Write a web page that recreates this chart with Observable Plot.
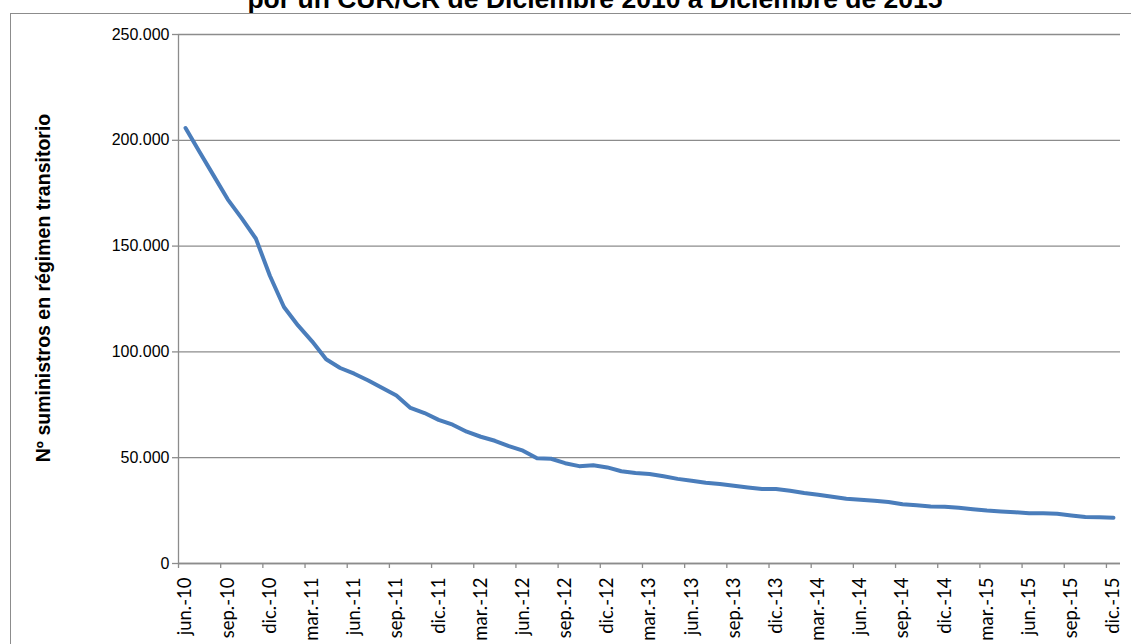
<!DOCTYPE html>
<html><head><meta charset="utf-8">
<script src="https://cdn.jsdelivr.net/npm/d3@7"></script>
<script src="https://cdn.jsdelivr.net/npm/@observablehq/plot@0.6"></script>
<style>
body{margin:0;background:#fff;}
#wrap{position:relative;width:1131px;height:644px;overflow:hidden;background:#fff;}
#title{position:absolute;left:595px;top:-14px;transform:translateX(-50%);white-space:nowrap;font:bold 26.5px "Liberation Sans",Arial,sans-serif;line-height:26.5px;color:#000;z-index:3;}
#frame{position:absolute;left:10px;top:13px;width:1200px;height:700px;border-left:1px solid #8c8c8c;border-top:1px solid #8c8c8c;z-index:2;}
#ytitle{position:absolute;left:43px;top:288px;transform:translate(-50%,-50%) rotate(-90deg);white-space:nowrap;font:bold 19.5px "Liberation Sans",Arial,sans-serif;color:#000;z-index:3;}
#chart{position:absolute;left:0;top:0;z-index:1;}
</style>
</head><body>
<div id="wrap">
  <div id="title">por un CUR/CR de Diciembre 2010 a Diciembre de 2015</div>
  <div id="frame"></div>
  <div id="ytitle">Nº suministros en régimen transitorio</div>
  <div id="chart"></div>
</div>
<script>
const months = [
 "jun.-10","jul.-10","ago.-10","sep.-10","oct.-10","nov.-10","dic.-10",
 "ene.-11","feb.-11","mar.-11","abr.-11","may.-11","jun.-11","jul.-11","ago.-11","sep.-11","oct.-11","nov.-11","dic.-11",
 "ene.-12","feb.-12","mar.-12","abr.-12","may.-12","jun.-12","jul.-12","ago.-12","sep.-12","oct.-12","nov.-12","dic.-12",
 "ene.-13","feb.-13","mar.-13","abr.-13","may.-13","jun.-13","jul.-13","ago.-13","sep.-13","oct.-13","nov.-13","dic.-13",
 "ene.-14","feb.-14","mar.-14","abr.-14","may.-14","jun.-14","jul.-14","ago.-14","sep.-14","oct.-14","nov.-14","dic.-14",
 "ene.-15","feb.-15","mar.-15","abr.-15","may.-15","jun.-15","jul.-15","ago.-15","sep.-15","oct.-15","nov.-15","dic.-15"
];
const suministros = [
 205800,194500,183300,172100,163100,153600,136000,
 121200,112500,105000,96500,92400,89700,86500,82900,79400,73500,71100,67900,
 65600,62300,59900,58000,55500,53300,49700,49500,47400,46000,46400,45400,
 43600,42800,42300,41200,40000,39100,38200,37600,36700,35900,35200,35200,
 34400,33300,32500,31500,30600,30100,29700,29100,28000,27500,26900,26800,
 26300,25600,25000,24600,24200,23700,23700,23500,22700,22000,21800,21600
];
const yTicks = [0, 50000, 100000, 150000, 200000, 250000];

const data = suministros.map((v, i) => ({i, v, mes: months[i]}));
const labelIdx = d3.range(0, months.length, 3);
const boundaryTicks = labelIdx.map(i => i - 0.5);
const fmt = d3.formatLocale({decimal: ",", thousands: ".", grouping: [3], currency: ["", "€"]}).format(",");
const grey = "#8c8c8c";

const chart = Plot.plot({
  width: 1131, height: 644,
  marginLeft: 178, marginRight: 11, marginTop: 34, marginBottom: 81,
  style: {background: "transparent", color: "#000", fontFamily: "'Liberation Sans', Arial, sans-serif"},
  x: {type: "linear", domain: [-0.5, months.length - 0.5], label: null},
  y: {domain: [0, 250000], label: null},
  marks: [
    Plot.gridY(yTicks, {stroke: grey, strokeOpacity: 1, strokeWidth: 1.3}),
    Plot.ruleX([-0.5], {stroke: grey, strokeWidth: 1.3}),
    Plot.ruleY([0], {stroke: grey, strokeWidth: 1.3}),
    Plot.axisY(yTicks, {tickSize: 6, tickPadding: 3, tickFormat: fmt, fontSize: 16, stroke: grey, strokeWidth: 1.3, label: null}),
    Plot.axisX(boundaryTicks, {tickSize: 5, tickFormat: () => "", stroke: grey, strokeWidth: 1.3, label: null}),
    Plot.axisX(labelIdx, {tickSize: 0, tickPadding: 14, tickRotate: -90, tickFormat: i => months[i], fontSize: 18.5, fontFamily: "Lato, sans-serif", label: null}),
    Plot.line(data, {x: "i", y: "v", stroke: "#4a7dbb", strokeWidth: 4, strokeLinejoin: "round", strokeLinecap: "round"})
  ]
});
document.getElementById("chart").appendChild(chart);
</script>
</body></html>
